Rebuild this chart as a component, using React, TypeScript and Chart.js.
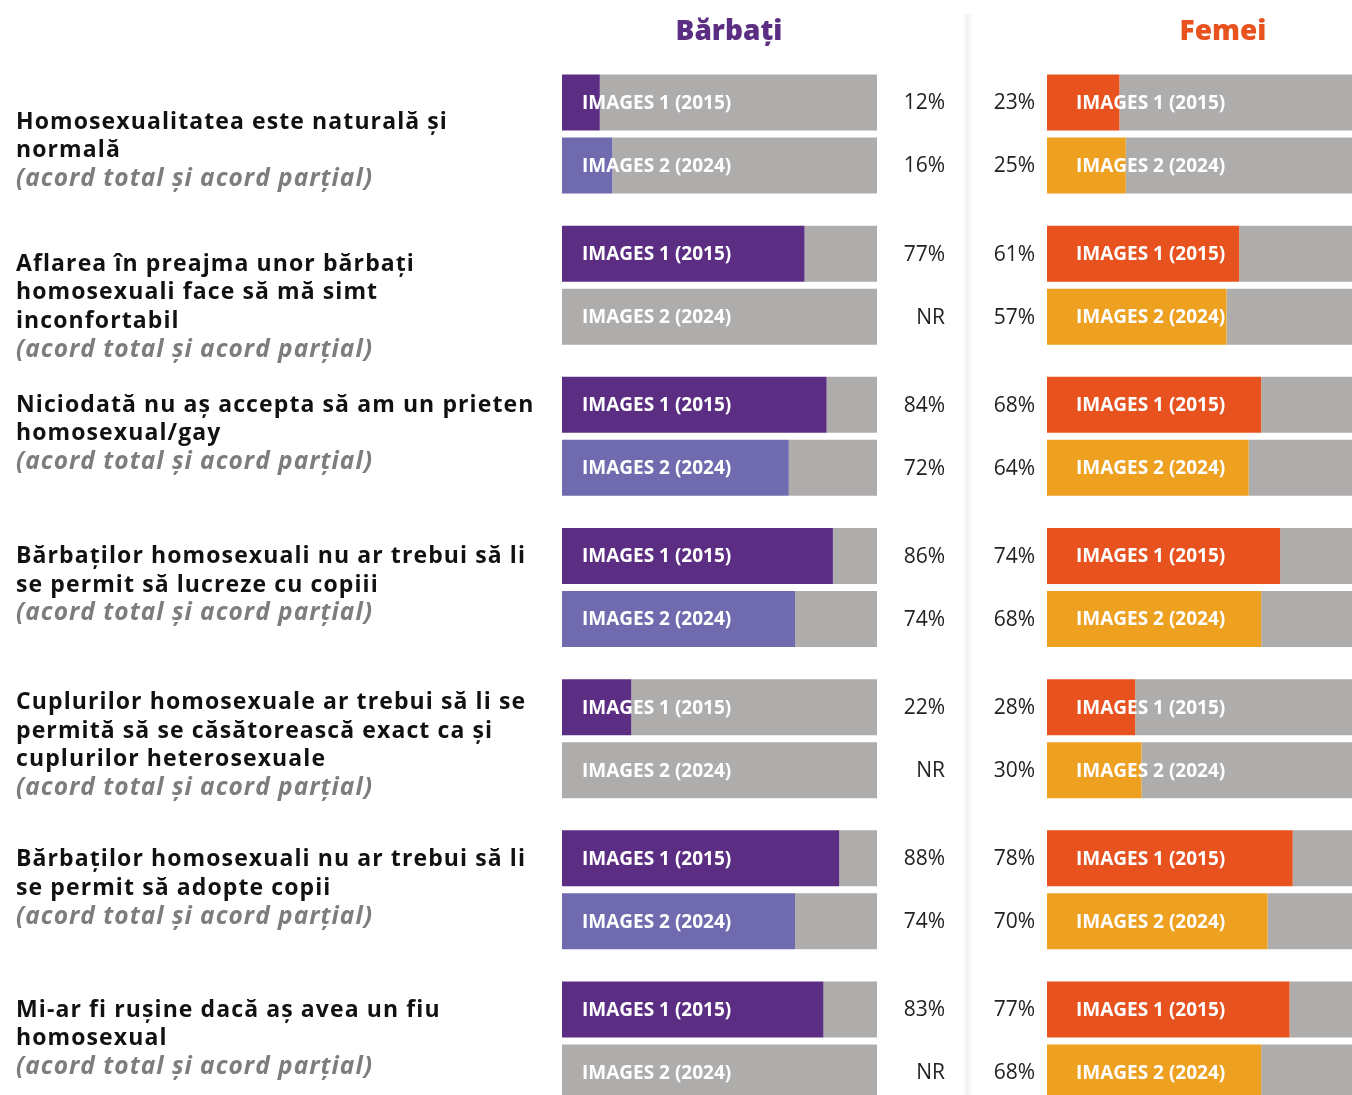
import React, { useEffect, useRef } from "react";
import { Chart, registerables } from "chart.js";

Chart.register(...registerables);

// ---------- data ----------
const questions: string[][] = [
  ["Homosexualitatea este naturală și", "normală"],
  ["Aflarea în preajma unor bărbați", "homosexuali face să mă simt", "inconfortabil"],
  ["Niciodată nu aș accepta să am un prieten", "homosexual/gay"],
  ["Bărbaților homosexuali nu ar trebui să li", "se permit să lucreze cu copiii"],
  ["Cuplurilor homosexuale ar trebui să li se", "permită să se căsătorească exact ca și", "cuplurilor heterosexuale"],
  ["Bărbaților homosexuali nu ar trebui să li", "se permit să adopte copii"],
  ["Mi-ar fi rușine dacă aș avea un fiu", "homosexual"],
];
const subtitle = "(acord total și acord parțial)";
const waveLabels = ["IMAGES 1 (2015)", "IMAGES 2 (2024)"];
const panelTitles = ["Bărbați", "Femei"];

const men2015: (number | null)[] = [12, 77, 84, 86, 22, 88, 83];
const men2024: (number | null)[] = [16, null, 72, 74, null, 74, null];
const women2015: (number | null)[] = [23, 61, 68, 74, 28, 78, 77];
const women2024: (number | null)[] = [25, 57, 64, 68, 30, 70, 68];

// ---------- layout / style ----------
const FONT = '"Open Sans", "Noto Sans", sans-serif';
const GRAY = "#afadac";
const labelNudge = [19, 10, 0, 0, -5, 1, 0];

type PanelCfg = {
  side: "L" | "R";
  values: (number | null)[][];
  colors: string[];
  titleColor: string;
  title: string;
  titleX: number;
  padLeft: number;
  padRight: number;
  inset: number;
};

const H = 1125;
const PAD_TOP = 58.4;
const PAD_BOTTOM = 8.4;

function makeChart(canvas: HTMLCanvasElement, cfg: PanelCfg) {
  const cats = questions.map((_, i) => String(i));
  const datasets: any[] = [];
  cfg.values.forEach((vals, w) => {
    datasets.push({
      label: waveLabels[w],
      data: vals.map((v) => (v == null ? 0 : v)),
      backgroundColor: cfg.colors[w],
      stack: "w" + w,
      borderWidth: 0,
    });
    datasets.push({
      label: waveLabels[w] + " rest",
      data: vals.map((v) => 100 - (v == null ? 0 : v)),
      backgroundColor: GRAY,
      stack: "w" + w,
      borderWidth: 0,
    });
  });

  const plugin = {
    id: "customText" + cfg.side,
    afterDatasetsDraw(chart: any) {
      const ctx = chart.ctx as any;
      const area = chart.chartArea;
      ctx.save();
      // panel title
      ctx.font = `800 28px ${FONT}`;
      ctx.fillStyle = cfg.titleColor;
      ctx.textAlign = "center";
      ctx.textBaseline = "middle";
      ctx.fillText(cfg.title, cfg.titleX, 32);

      cfg.values.forEach((vals, w) => {
        const meta = chart.getDatasetMeta(w * 2);
        meta.data.forEach((bar: any, i: number) => {
          const y = bar.y;
          ctx.font = `700 19px ${FONT}`;
          ctx.fillStyle = "#ffffff";
          ctx.textAlign = "left";
          ctx.textBaseline = "middle";
          ctx.fillText(waveLabels[w], area.left + cfg.inset, y + 1);
          const v = vals[i];
          const txt = v == null ? "NR" : `${v}%`;
          ctx.font = `400 21px ${FONT}`;
          ctx.fillStyle = "#222222";
          ctx.textAlign = "right";
          const x = cfg.side === "L" ? area.right + 68 : area.left - 12;
          ctx.fillText(txt, x, y + 1);
        });
      });

      if (cfg.side === "L") {
        const yScale = chart.scales.y;
        const lh = 28.5;
        questions.forEach((lines, i) => {
          const yc = yScale.getPixelForValue(i);
          let y = yc - 31 + labelNudge[i];
          ctx.textAlign = "left";
          ctx.textBaseline = "middle";
          ctx.letterSpacing = "1.1px";
          ctx.font = `700 23px ${FONT}`;
          ctx.fillStyle = "#111111";
          lines.forEach((ln) => {
            ctx.fillText(ln, 16, y);
            y += lh;
          });
          ctx.letterSpacing = "1px";
          ctx.font = `italic 700 24.5px ${FONT}`;
          ctx.fillStyle = "#7d7d7d";
          ctx.fillText(subtitle, 16, y);
          ctx.letterSpacing = "0px";
        });
      }
      ctx.restore();
    },
  };

  return new Chart(canvas, {
    type: "bar",
    data: { labels: cats, datasets },
    options: {
      indexAxis: "y",
      responsive: false,
      animation: false,
      events: [],
      layout: {
        padding: { left: cfg.padLeft, right: cfg.padRight, top: PAD_TOP, bottom: PAD_BOTTOM },
      },
      datasets: {
        bar: { categoryPercentage: 0.8335, barPercentage: 0.889 },
      },
      scales: {
        x: { stacked: true, min: 0, max: 100, display: false, grid: { display: false } },
        y: { stacked: true, display: false, grid: { display: false } },
      },
      plugins: { legend: { display: false }, tooltip: { enabled: false }, title: { display: false } },
    } as any,
    plugins: [plugin],
  });
}

export default function App() {
  const leftRef = useRef<HTMLCanvasElement | null>(null);
  const rightRef = useRef<HTMLCanvasElement | null>(null);

  useEffect(() => {
    document.body.style.overflow = "hidden";
    const left = makeChart(leftRef.current!, {
      side: "L",
      values: [men2015, men2024],
      colors: ["#5c2e83", "#6f6bae"],
      titleColor: "#5c2e83",
      title: panelTitles[0],
      titleX: 729,
      padLeft: 562,
      padRight: 90,
      inset: 20,
    });
    const right = makeChart(rightRef.current!, {
      side: "R",
      values: [women2015, women2024],
      colors: ["#e8521f", "#eea021"],
      titleColor: "#e8521f",
      title: panelTitles[1],
      titleX: 256,
      padLeft: 80,
      padRight: 0,
      inset: 29,
    });
    return () => {
      left.destroy();
      right.destroy();
    };
  }, []);

  return (
    <div
      style={{
        position: "absolute",
        left: 0,
        top: 0,
        width: 1352,
        height: 1095,
        overflow: "hidden",
        background: "#ffffff",
      }}
    >
      <div style={{ position: "absolute", left: 0, top: 0, width: 967, height: 1095, overflow: "hidden" }}>
        <canvas ref={leftRef} width={967} height={H} style={{ display: "block" }} />
      </div>
      <div
        style={{
          position: "absolute",
          left: 962,
          top: 14,
          width: 12,
          height: 1081,
          background: "linear-gradient(to right, rgba(0,0,0,0), rgba(0,0,0,0.05) 45%, rgba(0,0,0,0.02) 70%, rgba(0,0,0,0))",
        }}
      />
      <div style={{ position: "absolute", left: 967, top: 0, width: 385, height: 1095, overflow: "hidden" }}>
        <canvas ref={rightRef} width={395} height={H} style={{ display: "block" }} />
      </div>
    </div>
  );
}
